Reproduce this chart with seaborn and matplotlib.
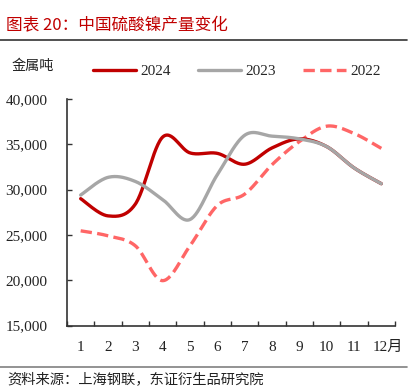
import numpy as np
import pandas as pd
import matplotlib
matplotlib.use("Agg")
import matplotlib.pyplot as plt
import matplotlib.transforms as mtransforms
from matplotlib.lines import Line2D
from matplotlib.ticker import FuncFormatter, FixedLocator
import seaborn as sns

months = ["1", "2", "3", "4", "5", "6", "7", "8", "9", "10", "11", "12月"]
y2024 = [29000, 27100, 28400, 35800, 34050, 34000, 32800, 34600, 35600, 34750, 32400, 30650]
y2023 = [29400, 31350, 30900, 28900, 26700, 31650, 36000, 35900, 35600, 34750, 32400, 30650]
y2022 = [25450, 24900, 23800, 19950, 23800, 28250, 29500, 32750, 35300, 37000, 36200, 34550]
series_names = ["2024", "2023", "2022"]
colors = {"2024": "#C00000", "2023": "#A6A6A6", "2022": "#FF6666"}

sns.set_style("ticks")
plt.rcParams["font.family"] = ["Liberation Serif", "Noto Sans CJK SC"]
plt.rcParams["axes.unicode_minus"] = False

W, H = 412, 391
fig = plt.figure(figsize=(W / 100, H / 100), dpi=100)
ax = fig.add_axes([67 / W, 1 - 325.5 / H, (395 - 67) / W, (325.5 - 99) / H])


def smooth(xs, ys, n=30):
    # Excel-style smoothed line (Bezier through points, tension 1/6)
    xs = np.asarray(xs, float)
    ys = np.asarray(ys, float)
    P = np.column_stack([xs, ys])
    Pp = np.vstack([P[0], P, P[-1]])
    out = []
    t = np.linspace(0, 1, n)
    for i in range(len(P) - 1):
        p0, p1, p2, p3 = Pp[i], Pp[i + 1], Pp[i + 2], Pp[i + 3]
        c1 = p1 + (p2 - p0) / 6
        c2 = p2 - (p3 - p1) / 6
        seg = ((1 - t) ** 3)[:, None] * p1 + (3 * (1 - t) ** 2 * t)[:, None] * c1 \
            + (3 * (1 - t) * t ** 2)[:, None] * c2 + (t ** 3)[:, None] * p2
        out.append(seg if i == 0 else seg[1:])
    arr = np.vstack(out)
    return arr[:, 0], arr[:, 1]


xpos = np.arange(len(months))
data = {"2024": y2024, "2023": y2023, "2022": y2022}
styles = {"2024": "-", "2023": "-", "2022": (0, (3.4, 1.6))}
lw = 2.4
for name in ["2022", "2024", "2023"]:
    sx, sy = smooth(xpos, data[name])
    df = pd.DataFrame({"x": sx, "y": sy})
    sns.lineplot(data=df, x="x", y="y", ax=ax, sort=False, color=colors[name],
                 linewidth=lw, linestyle=styles[name], estimator=None)

ax.set_xlim(-0.5, 11.5)
ax.set_ylim(15000, 40000)
ax.set_yticks([15000, 20000, 25000, 30000, 35000, 40000])
ax.yaxis.set_major_formatter(FuncFormatter(lambda v, p: f"{int(v):,}"))
ax.set_xticks(xpos)
ax.set_xticklabels(months)
ax.xaxis.set_minor_locator(FixedLocator(np.arange(-0.5, 12, 1)))
ax.tick_params(axis="x", which="major", length=0, pad=11, labelsize=11, colors="#222222")
ax.tick_params(axis="x", which="minor", length=3.5, direction="in", width=1, color="#333333")
ax.tick_params(axis="y", which="major", length=3.5, direction="in", width=1, pad=14,
               labelsize=11, colors="#333333")
for lab in ax.get_yticklabels():
    lab.set_color("#222222")
lab12 = ax.get_xticklabels()[-1]
lab12.set_transform(lab12.get_transform() + mtransforms.ScaledTranslation(7 / 100, 0, fig.dpi_scale_trans))
ax.set_xlabel("")
ax.set_ylabel("")
for s in ["top", "right"]:
    ax.spines[s].set_visible(False)
for s in ["left", "bottom"]:
    ax.spines[s].set_color("#333333")
    ax.spines[s].set_linewidth(1.2)

handles = [Line2D([0], [0], color=colors[n], lw=lw, linestyle=styles[n]) for n in series_names]
fig.legend(handles, series_names, loc="center left", bbox_to_anchor=(93 / W, 1 - 71.5 / H),
           ncol=3, frameon=False, borderpad=0, borderaxespad=0, handlelength=2.8,
           handletextpad=0.28, columnspacing=1.8, fontsize=11)

fig.text(6 / W, 1 - 26 / H, "图表 20：中国硫酸镍产量变化", color="#C00000", fontsize=12,
         family=["Noto Sans CJK SC", "DejaVu Sans"], va="center", ha="left", fontweight="medium")
fig.add_artist(Line2D([0, 407 / W], [1 - 39.5 / H, 1 - 39.5 / H], color="#333333", lw=1.2))
fig.text(12 / W, 1 - 66 / H, "金属吨", color="#222222", fontsize=10.2,
         family=["Noto Sans CJK SC", "DejaVu Sans"], va="center", ha="left")
fig.add_artist(Line2D([0, 407 / W], [1 - 367 / H, 1 - 367 / H], color="#808080", lw=1.2))
fig.text(7 / W, 1 - 379 / H, "资料来源：上海钢联，东证衍生品研究院", color="#222222", fontsize=10.3,
         family=["Noto Sans CJK SC", "DejaVu Sans"], va="center", ha="left")

fig.savefig("out.png", dpi=100)
